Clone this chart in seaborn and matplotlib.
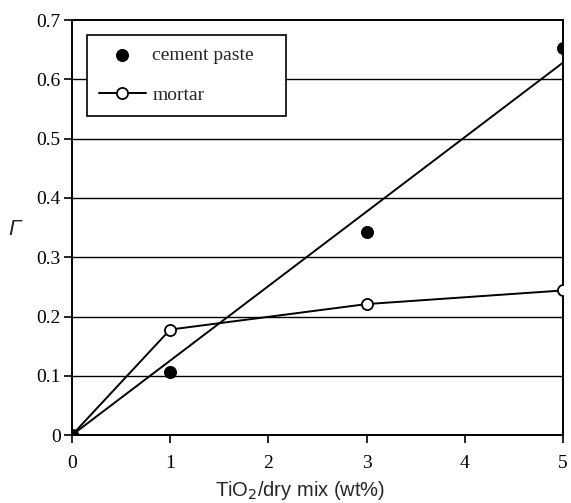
"""Photocatalytic efficiency vs TiO2 content for cement paste and mortar."""

import matplotlib
matplotlib.use("Agg")
import matplotlib.pyplot as plt
import numpy as np
import pandas as pd
import seaborn as sns

TIO2_PCT = [0, 1, 3, 5]
CEMENT_PASTE = [0.0, 0.107, 0.342, 0.653]
MORTAR = [0.0, 0.178, 0.221, 0.244]

Y_TICKS = [0, 0.1, 0.2, 0.3, 0.4, 0.5, 0.6, 0.7]
Y_LABELS = ["0", "0.1", "0.2", "0.3", "0.4", "0.5", "0.6", "0.7"]
X_TICKS = [0, 1, 2, 3, 4, 5]

sns.set_style("white")
plt.rcParams["font.family"] = ["Liberation Serif", "DejaVu Serif"]

df = pd.DataFrame({"x": TIO2_PCT, "paste": CEMENT_PASTE, "mortar": MORTAR})

# linear fit through the origin for the cement paste points
x = np.asarray(TIO2_PCT, dtype=float)
y = np.asarray(CEMENT_PASTE)
slope = (x * y).sum() / (x * x).sum()
fit = pd.DataFrame({"x": [x.min(), x.max()], "y": [slope * x.min(), slope * x.max()]})

fig = plt.figure(figsize=(5.71, 5.03), dpi=100)
ax = fig.add_axes([0.126, 0.135, 0.86, 0.825])

for yv in Y_TICKS[1:-1]:
    ax.axhline(yv, color="black", lw=1.0, zorder=0)

sns.lineplot(data=fit, x="x", y="y", ax=ax, color="black", lw=1.4, zorder=2)
sns.lineplot(data=df, x="x", y="mortar", ax=ax, color="black", lw=1.4,
             marker="o", markersize=8, markerfacecolor="white",
             markeredgecolor="black", markeredgewidth=1.3, zorder=3,
             label="mortar")
sns.scatterplot(data=df, x="x", y="paste", ax=ax, color="black", s=75,
                edgecolor="black", zorder=4, label="cement paste")

ax.set_xlim(0, 5)
ax.set_ylim(0, 0.7)
ax.set_xticks(X_TICKS)
ax.set_yticks(Y_TICKS)
ax.set_yticklabels(Y_LABELS)
ax.tick_params(axis="both", direction="out", length=6, width=1.2, pad=2,
               labelsize=14, colors="black", bottom=True, left=True)
ax.tick_params(axis="x", pad=8)
for s in ax.spines.values():
    s.set_color("black")
    s.set_linewidth(1.4)

ax.set_xlabel("TiO$_2$/dry mix (wt%)", family="Liberation Sans", fontsize=14.5,
              labelpad=5)
ax.xaxis.set_label_coords(0.465, -0.105)
ax.set_ylabel("Γ", family="Liberation Sans", style="italic", fontsize=16,
              rotation=0)
ax.yaxis.set_label_coords(-0.116, 0.47)

handles, labels = ax.get_legend_handles_labels()
order = [labels.index("cement paste"), labels.index("mortar")]
leg = ax.legend([handles[i] for i in order], [labels[i] for i in order],
                loc="upper left", bbox_to_anchor=(0.031, 0.775, 0.405, 0.19),
                mode="expand", borderaxespad=0,
                frameon=True, fancybox=False, framealpha=1, edgecolor="black",
                handlelength=2.4, handletextpad=0.35, borderpad=0.6,
                labelspacing=1.15,
                prop={"family": "Liberation Serif", "size": 14})
leg.get_frame().set_linewidth(1.2)
leg.set_zorder(10)

fig.savefig("out.png", dpi=100)
